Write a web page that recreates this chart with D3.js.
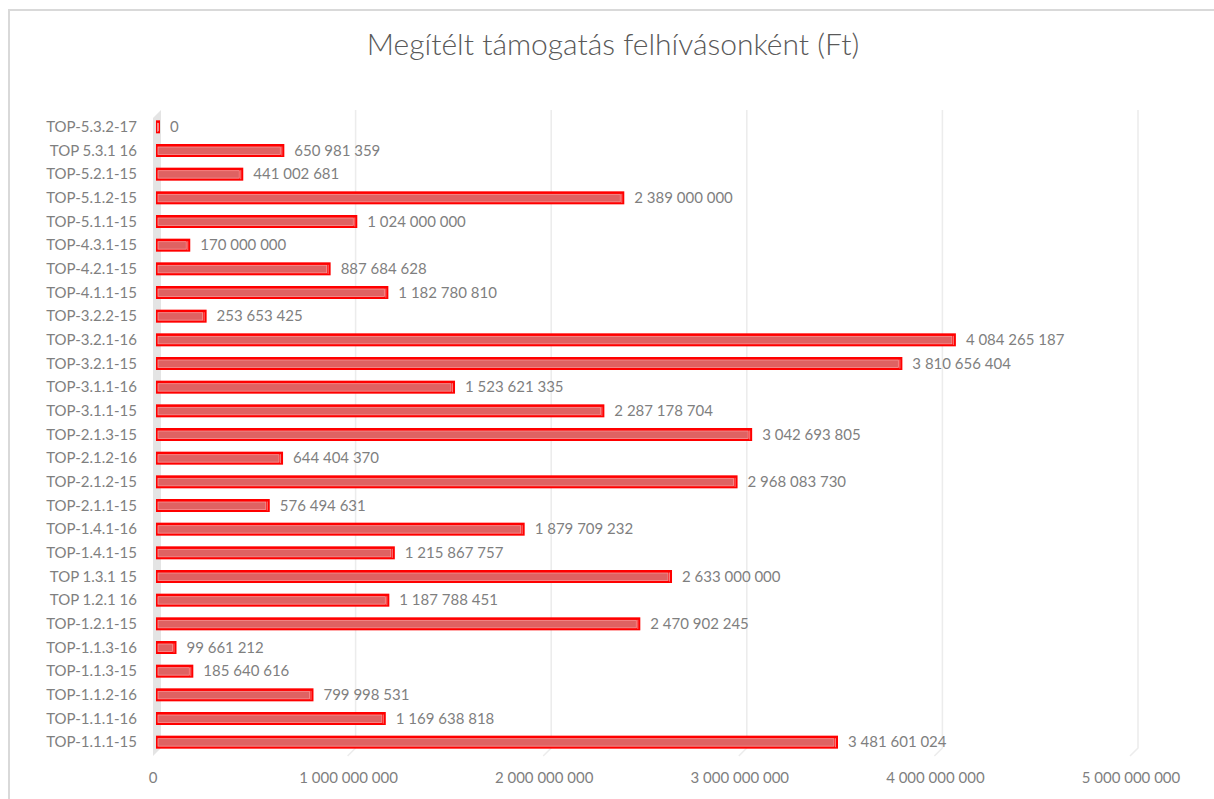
<!DOCTYPE html>
<html>
<head>
<meta charset="utf-8">
<script src="https://cdn.jsdelivr.net/npm/d3@7"></script>
<style>
  body { margin: 0; background: #ffffff; }
  svg { display: block; }
</style>
</head>
<body>
<svg id="chart" width="1214" height="799"></svg>
<script>
// Data (bottom to top as in the reference)
const categories = [
  "TOP-1.1.1-15", "TOP-1.1.1-16", "TOP-1.1.2-16", "TOP-1.1.3-15", "TOP-1.1.3-16",
  "TOP-1.2.1-15", "TOP 1.2.1 16", "TOP 1.3.1 15", "TOP-1.4.1-15", "TOP-1.4.1-16",
  "TOP-2.1.1-15", "TOP-2.1.2-15", "TOP-2.1.2-16", "TOP-2.1.3-15", "TOP-3.1.1-15",
  "TOP-3.1.1-16", "TOP-3.2.1-15", "TOP-3.2.1-16", "TOP-3.2.2-15", "TOP-4.1.1-15",
  "TOP-4.2.1-15", "TOP-4.3.1-15", "TOP-5.1.1-15", "TOP-5.1.2-15", "TOP-5.2.1-15",
  "TOP 5.3.1 16", "TOP-5.3.2-17"
];
const values = [
  3481601024, 1169638818, 799998531, 185640616, 99661212,
  2470902245, 1187788451, 2633000000, 1215867757, 1879709232,
  576494631, 2968083730, 644404370, 3042693805, 2287178704,
  1523621335, 3810656404, 4084265187, 253653425, 1182780810,
  887684628, 170000000, 1024000000, 2389000000, 441002681,
  650981359, 0
];
const xTicks = [0, 1000000000, 2000000000, 3000000000, 4000000000, 5000000000];
const title = "Megítélt támogatás felhívásonként (Ft)";

const data = categories.map((c, i) => ({ cat: c, val: values[i] }));

const svg = d3.select("#chart");
const fontFam = "Lato, 'Open Sans', sans-serif";

// Frame
svg.append("rect")
  .attr("x", 9).attr("y", 10).attr("width", 1230).attr("height", 820)
  .attr("fill", "#ffffff").attr("stroke", "#d9d9d9").attr("stroke-width", 2);

// Title
svg.append("text")
  .attr("x", 613).attr("y", 55)
  .attr("text-anchor", "middle")
  .attr("font-family", fontFam)
  .attr("font-size", 30)
  .attr("font-weight", 300)
  .attr("fill", "#595959")
  .text(title);

const x = d3.scaleLinear().domain([0, 5000000000]).range([157, 1135]);
const y = d3.scaleBand()
  .domain(categories.slice().reverse())
  .range([115, 754])
  .paddingInner(0).paddingOuter(0);

const bw = y.bandwidth();
const cy = d => y(d) + bw / 2;

const fmt = d3.formatLocale({ decimal: ",", thousands: " ", grouping: [3], currency: ["", " Ft"] }).format(",d");

// Back wall gridlines with floor foot
const gridTop = 110, gridBot = 748, dx = 8, dy = 8;
svg.append("g").selectAll("path").data(xTicks.slice(1)).join("path")
  .attr("d", v => {
    const gx = x(v) + 3;
    return `M${gx},${gridTop} L${gx},${gridBot} L${gx - dx},${gridBot + dy}`;
  })
  .attr("fill", "none")
  .attr("stroke", "#ececec")
  .attr("stroke-width", 1.5);

// Left wall
svg.append("path")
  .attr("d", `M${x(0) - 4},${gridTop + dy} L${x(0) + 4},${gridTop} L${x(0) + 4},${gridBot} L${x(0) - 4},${gridBot + dy} Z`)
  .attr("fill", "#e4e4e4");

// Bars (pseudo-3D)
const bars = svg.append("g").selectAll("g").data(data).join("g");
const bh = 13;
bars.append("rect")
  .attr("x", x(0) - 1)
  .attr("y", d => cy(d.cat) - bh / 2)
  .attr("width", d => Math.max(x(d.val) - x(0) + 1, 4))
  .attr("height", bh)
  .attr("fill", "#ff0000");
bars.append("rect")
  .attr("x", x(0) + 1)
  .attr("y", d => cy(d.cat) - bh / 2 + 3)
  .attr("width", d => Math.max(x(d.val) - x(0) - 5, 0.5))
  .attr("height", bh - 5.5)
  .attr("fill", "#df6262")
  .attr("stroke", "#f59a9a")
  .attr("stroke-width", 0.8);
bars.append("line")
  .attr("x1", d => Math.max(x(d.val), x(0) + 3) - 2.5)
  .attr("x2", d => Math.max(x(d.val), x(0) + 3) - 2.5)
  .attr("y1", d => cy(d.cat) - bh / 2 + 2.5)
  .attr("y2", d => cy(d.cat) + bh / 2 - 1.5)
  .attr("stroke", "#f59a9a")
  .attr("stroke-width", 0.8);

// Value labels
bars.append("text")
  .attr("x", d => Math.max(x(d.val), x(0) + 3) + 10)
  .attr("y", d => cy(d.cat))
  .attr("dy", "0.35em")
  .attr("font-family", fontFam)
  .attr("font-size", 15)
  .attr("fill", "#7f7f7f")
  .text(d => fmt(d.val));

// Category axis labels
svg.append("g").selectAll("text").data(categories).join("text")
  .attr("x", 137)
  .attr("y", d => cy(d))
  .attr("dy", "0.35em")
  .attr("text-anchor", "end")
  .attr("font-family", fontFam)
  .attr("font-size", 15)
  .attr("fill", "#7f7f7f")
  .text(d => d);

// X axis tick labels
svg.append("g").selectAll("text").data(xTicks).join("text")
  .attr("x", v => x(v) - 4)
  .attr("y", 778)
  .attr("dy", "0.35em")
  .attr("text-anchor", "middle")
  .attr("font-family", fontFam)
  .attr("font-size", 15)
  .attr("fill", "#7f7f7f")
  .text(v => fmt(v));
</script>
</body>
</html>
